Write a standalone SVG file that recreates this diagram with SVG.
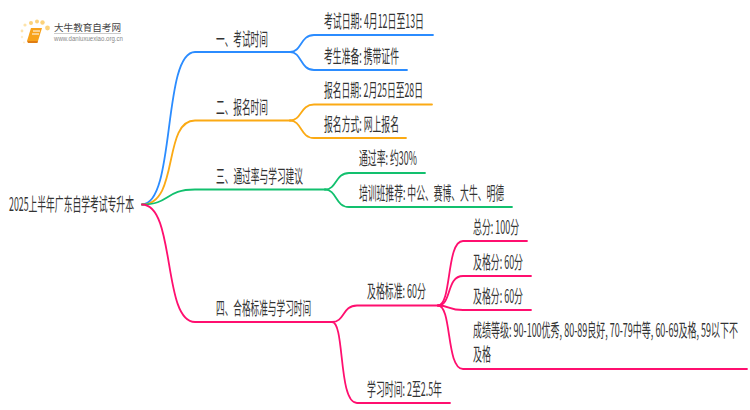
<svg xmlns="http://www.w3.org/2000/svg" width="750" height="410" viewBox="0 0 750 410">
<defs><style>
text{font-family:"Noto Sans CJK SC","Liberation Sans",sans-serif;font-size:18px;fill:#333;}
.c{fill:none;stroke-linecap:round;stroke-linejoin:round;stroke-width:1.8;}
.b{stroke:#2b8cff;}.o{stroke:#fbaa14;}.g{stroke:#12c06e;}.p{stroke:#ff0f6f;}
text.lt{font-size:9.5px;fill:#444;}text.lu{font-size:6.5px;fill:#888;font-family:"Liberation Sans",sans-serif;}
</style></defs>
<rect width="750" height="410" fill="#fff"/>
<g id="logo">
<circle cx="47.500" cy="28" r="2.400" fill="#fcd27a"/><circle cx="42.500" cy="22.500" r="2.200" fill="#fcd27a"/><circle cx="37" cy="21.500" r="2" fill="#fcd27a"/><circle cx="31" cy="23" r="2" fill="#fcd27a"/><circle cx="25" cy="25" r="1.600" fill="#fde3ab"/><circle cx="22" cy="31" r="1.400" fill="#fde3ab"/><circle cx="22" cy="37" r="1.200" fill="#feeecb"/><circle cx="24" cy="42.500" r="1" fill="#feeecb"/>
<path d="M31 28H42L38 41H27Z" fill="#f7a21b"/><path d="M27 41H38L37.500 43H28Z" fill="#e07d12"/><path d="M33 31H40M32 34H39" stroke="#fff" stroke-width="1"/>
<text class="lt" x="54" y="31" textLength="67" lengthAdjust="spacingAndGlyphs">大牛教育自考网</text>
<path d="M54 33.500H121" stroke="#ccc" stroke-width="1"/>
<text class="lu" x="54" y="41" textLength="69" lengthAdjust="spacingAndGlyphs">www.daniuxuexiao.org.cn</text>
</g>
<g id="connectors">
<path class="c b" d="M142 204.500C176 204.500 162 52 195 52H290"/>
<path class="c b" d="M290 52C302 52 300 35 314 35H433"/>
<path class="c b" d="M290 52C302 52 300 70 314 70H407"/>
<path class="c o" d="M142 204.500C180 204.500 162 120.500 195 120.500H290"/>
<path class="c o" d="M290 120.500C302 120.500 300 104.500 314 104.500H432"/>
<path class="c o" d="M290 120.500C302 120.500 300 138 314 138H406"/>
<path class="c g" d="M142 204.500C170 204.500 165 189.500 195 189.500H325"/>
<path class="c g" d="M325 189.500C337 189.500 335 173 349 173H425"/>
<path class="c g" d="M325 189.500C337 189.500 335 207 349 207H512"/>
<path class="c p" d="M142 204.500C176 204.500 162 322 195 322H332"/>
<path class="c p" d="M332 322C345 322 342 305.500 357 305.500H438"/>
<path class="c p" d="M332 322C345 322 338 403 357 403H450"/>
<path class="c p" d="M438 305.500C452 305.500 446 241 463 241H527"/>
<path class="c p" d="M438 305.500C452 305.500 446 276 463 276H531"/>
<path class="c p" d="M438 305.500C450 305.500 448 310 463 310H531"/>
<path class="c p" d="M438 305.500C452 305.500 446 369 463 369H747"/>
</g>
<g id="root"><text transform="translate(9 211) scale(.49 1)" textLength="255" lengthAdjust="spacingAndGlyphs">2025上半年广东自学考试专升本</text></g>
<g id="n1"><text transform="translate(216 46) scale(.49 1)" textLength="106" lengthAdjust="spacingAndGlyphs">一、考试时间</text></g>
<g id="n1a"><text transform="translate(324 28) scale(.49 1)" textLength="204" lengthAdjust="spacingAndGlyphs">考试日期: 4月12日至13日</text></g>
<g id="n1b"><text transform="translate(324 63) scale(.49 1)" textLength="153" lengthAdjust="spacingAndGlyphs">考生准备: 携带证件</text></g>
<g id="n2"><text transform="translate(216 114) scale(.49 1)" textLength="106" lengthAdjust="spacingAndGlyphs">二、报名时间</text></g>
<g id="n2a"><text transform="translate(324 97) scale(.49 1)" textLength="202" lengthAdjust="spacingAndGlyphs">报名日期: 2月25日至28日</text></g>
<g id="n2b"><text transform="translate(324 131) scale(.49 1)" textLength="153" lengthAdjust="spacingAndGlyphs">报名方式: 网上报名</text></g>
<g id="n3"><text transform="translate(216 183) scale(.49 1)" textLength="177.500" lengthAdjust="spacingAndGlyphs">三、通过率与学习建议</text></g>
<g id="n3a"><text transform="translate(359 165) scale(.49 1)" textLength="118" lengthAdjust="spacingAndGlyphs">通过率: 约30%</text></g>
<g id="n3b"><text transform="translate(359 200) scale(.49 1)" textLength="296" lengthAdjust="spacingAndGlyphs">培训班推荐: 中公、赛博、大牛、明德</text></g>
<g id="n4"><text transform="translate(216 315) scale(.49 1)" textLength="194" lengthAdjust="spacingAndGlyphs">四、合格标准与学习时间</text></g>
<g id="n4a"><text transform="translate(367 298) scale(.49 1)" textLength="120" lengthAdjust="spacingAndGlyphs">及格标准: 60分</text></g>
<g id="n4b"><text transform="translate(367 396) scale(.49 1)" textLength="153" lengthAdjust="spacingAndGlyphs">学习时间: 2至2.5年</text></g>
<g id="n5a"><text transform="translate(473 234) scale(.49 1)" textLength="94" lengthAdjust="spacingAndGlyphs">总分: 100分</text></g>
<g id="n5b"><text transform="translate(473 268.500) scale(.49 1)" textLength="102" lengthAdjust="spacingAndGlyphs">及格分: 60分</text></g>
<g id="n5c"><text transform="translate(473 303) scale(.49 1)" textLength="102" lengthAdjust="spacingAndGlyphs">及格分: 60分</text></g>
<g id="n5d"><text transform="translate(473 337) scale(.5 1)" textLength="530" lengthAdjust="spacingAndGlyphs">成绩等级: 90-100优秀, 80-89良好, 70-79中等, 60-69及格, 59以下不</text><text transform="translate(473 361) scale(.5 1)" textLength="36" lengthAdjust="spacingAndGlyphs">及格</text></g>
</svg>
